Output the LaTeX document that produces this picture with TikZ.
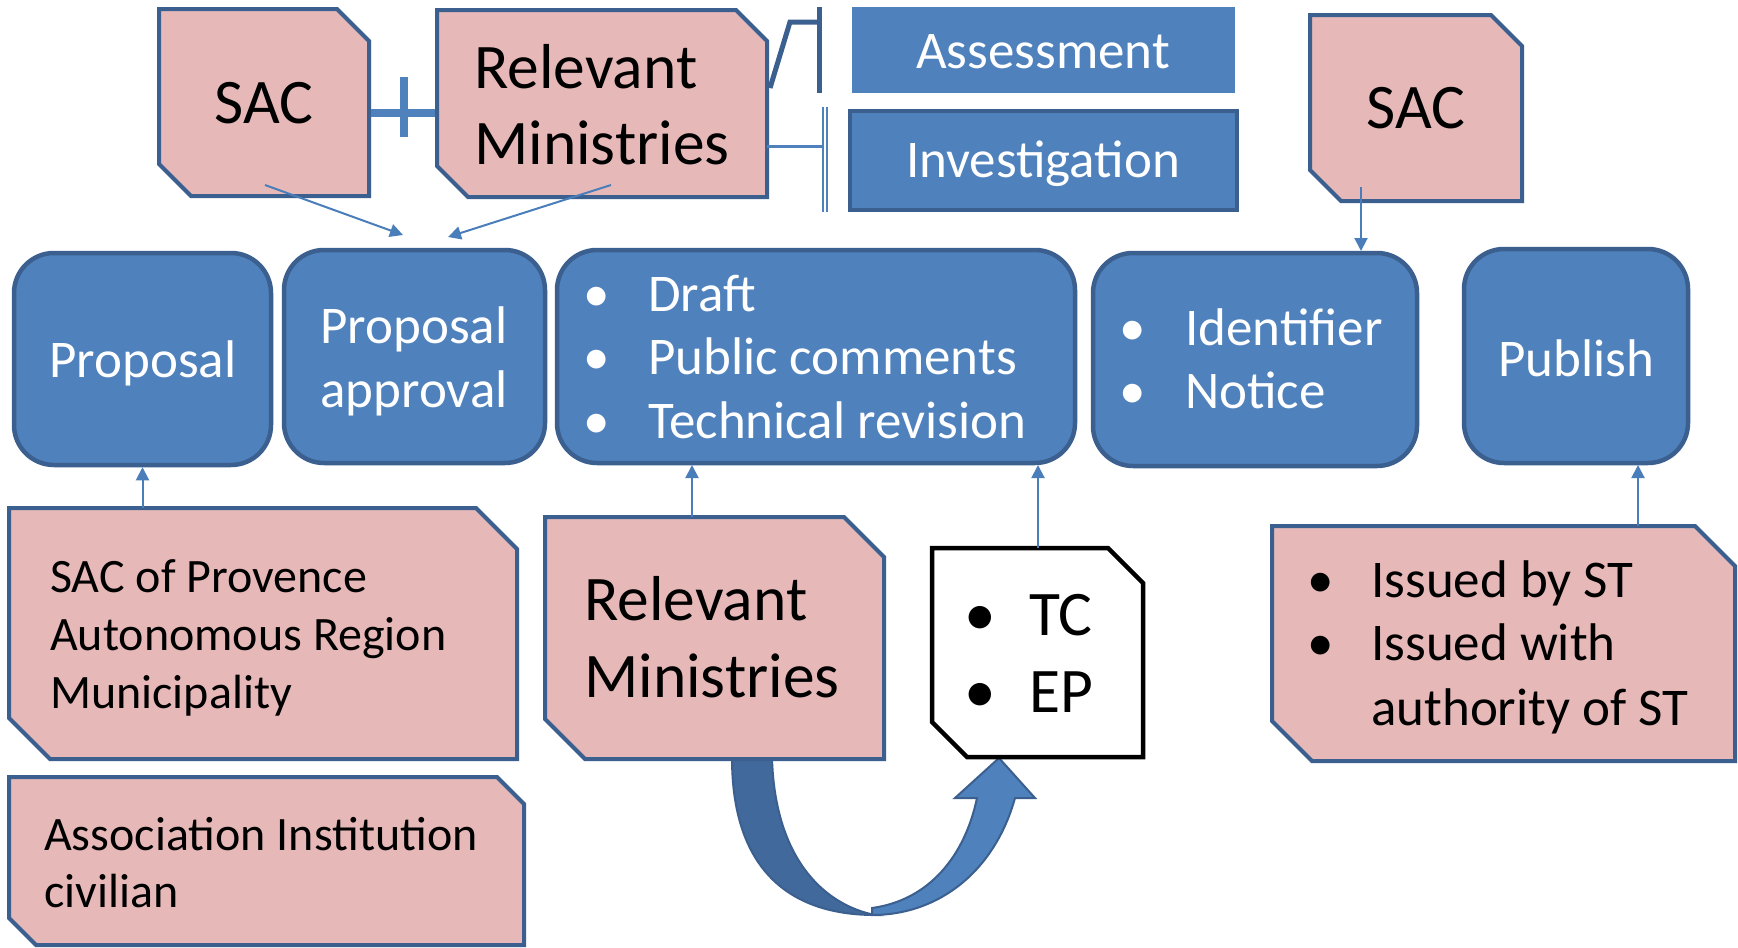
\documentclass[tikz,border=0pt]{standalone}
\usepackage{fontspec}
\setmainfont{Carlito}
\usetikzlibrary{arrows.meta,fit,calc}
\definecolor{pinkf}{HTML}{E6B9B8}
\definecolor{dkblue}{HTML}{3B5F8E}
\definecolor{acc}{HTML}{4F81BD}
\definecolor{connc}{HTML}{4A7EBB}
\definecolor{backband}{HTML}{41699B}
\newcommand\chbox[7]{%
  \node[fit={(#3,#4)(#5,#6)}, inner sep=0pt] (#2) {};
  \draw[#1] (#3,#4) -- ({#5-#7},#4) -- (#5,{#4+#7}) -- (#5,#6) -- ({#3+#7},#6) -- (#3,{#6-#7}) -- cycle;
}
\newcommand\bitem[6]{%
  \node[#1, anchor=base] (#2b) at (#3,#5) {\textbullet};
  \node[#1, anchor=base west] (#2) at (#4,#5) {#6};
}
\tikzset{
  pinkbox/.style={fill=pinkf, draw=dkblue, line width=4pt},
  whitebox/.style={fill=white, draw=black, line width=4.5pt},
  bluebox/.style={fill=acc, draw=dkblue, line width=4.5pt, rounded corners=40pt, inner sep=0pt},
  conn/.style={draw=connc, line width=2pt, -{Triangle[length=13pt,width=13pt]}},
  wA/.style={text=white, inner sep=0pt, font=\fontsize{53}{63}\selectfont},
  bA/.style={text=black, inner sep=0pt, font=\fontsize{53}{63}\selectfont},
  bB/.style={text=black, inner sep=0pt, font=\fontsize{63.5}{76}\selectfont},
  bC/.style={text=black, inner sep=0pt, font=\fontsize{48}{58}\selectfont},
}
\begin{document}
\begin{tikzpicture}[x=1pt, y=-1pt]
\useasboundingbox[fill=white] (0,0) rectangle (1738,948);

% curved block arrow (drawn under boxes)
\fill[backband, draw=dkblue, line width=2pt]
  (732,758) .. controls (732,870) and (790,915) .. (875,915)
  .. controls (825,905) and (775,860) .. (772,758) -- cycle;
\fill[acc, draw=dkblue, line width=2pt]
  (872,915) .. controls (940,915) and (995,870) .. (1015,798)
  -- (1035,798) -- (999,758) -- (955,798) -- (977,798)
  .. controls (965,855) and (930,900) .. (872,908) -- cycle;

% top row
\chbox{pinkbox}{sac1}{159}{9}{369}{196}{32}
\chbox{pinkbox}{rm1}{437}{10}{767}{197}{31}
\chbox{pinkbox}{sac2}{1310}{15}{1522}{201}{31}
\node[fill=acc, inner sep=0pt, fit={(852,7)(1235,93)}] (assess) {};
\node[fill=acc, draw=dkblue, line width=4pt, inner sep=0pt, fit={(850,111)(1237,210)}] (invest) {};

% plus sign
\draw[acc, line width=8pt] ($(sac1.east)+(2,10)$) -- ($(rm1.west)+(-2,9)$);
\coordinate (plusT) at (404,77);
\coordinate (plusB) at (404,137);
\draw[acc, line width=8pt] (plusT) -- (plusB);

% bracket to Assessment
\coordinate (brA) at (770,88);
\coordinate (brB) at (790,22);
\coordinate (brC) at (819,22);
\coordinate (brT) at (819,7);
\coordinate (brD) at (819,93);
\draw[dkblue, line width=5pt] (brA) -- (brB) -- (brC);
\draw[dkblue, line width=5pt] (brT) -- (brD);
% bracket to Investigation
\coordinate (biT) at (825,107);
\coordinate (biB) at (825,212);
\draw[acc, line width=3pt] ($(rm1.east)+(0,43)$) -- (825,146.5);
\draw[acc, line width=1.3pt, double=white, double distance=2.5pt] (biT) -- (biB);

% middle row
\node[bluebox, fit={(14,253)(271,465)}] (prop) {};
\node[bluebox, fit={(284,250)(545,463)}] (appr) {};
\node[bluebox, fit={(557,250)(1075,463)}] (draft) {};
\node[bluebox, fit={(1093,253)(1417,466)}] (ident) {};
\node[bluebox, fit={(1464,249)(1688,463)}] (publ) {};

% bottom row
\chbox{pinkbox}{orgs}{9}{508}{517}{759}{41}
\chbox{pinkbox}{assoc}{9}{777}{524}{945}{27}
\chbox{pinkbox}{rm2}{545}{517}{884}{759}{40}
\chbox{whitebox}{tcep}{932}{548}{1143}{757}{35}
\chbox{pinkbox}{issued}{1272}{526}{1735}{761}{40}

% texts top
\node[bB, anchor=base] (tsac1) at (264,123) {SAC};
\node[bB, anchor=base west] (trm1a) at (474,88) {Relevant};
\node[bB, anchor=base west] (trm1b) at (474,164) {Ministries};
\node[bB, anchor=base] (tsac2) at (1416,128) {SAC};
\node[wA, anchor=base] (tass) at (1043,68) {Assessment};
\node[wA, anchor=base] (tinv) at (1043,177) {Investigation};

% texts middle
\node[wA, anchor=base] (tprop) at (143,377) {Proposal};
\node[wA, anchor=base] (tappa) at (414,343) {Proposal};
\node[wA, anchor=base] (tappb) at (414,407) {approval};
\bitem{wA}{dr1}{597}{648}{311}{Draft}
\bitem{wA}{dr2}{597}{648}{374}{Public comments}
\bitem{wA}{dr3}{597}{648}{438}{Technical revision}
\bitem{wA}{id1}{1133}{1185}{345}{Identifier}
\bitem{wA}{id2}{1133}{1185}{408}{Notice}
\node[wA, anchor=base] (tpub) at (1576,376) {Publish};

% texts bottom
\node[bC, anchor=base west] (to1) at (50,592) {SAC of Provence};
\node[bC, anchor=base west] (to2) at (50,650) {Autonomous Region};
\node[bC, anchor=base west] (to3) at (50,708) {Municipality};
\node[bC, anchor=base west] (ta1) at (44,850) {Association Institution};
\node[bC, anchor=base west] (ta2) at (44,907) {civilian};
\node[bB, anchor=base west] (trm2a) at (584,620) {Relevant};
\node[bB, anchor=base west] (trm2b) at (584,697) {Ministries};
\bitem{bB}{tc1}{980}{1029}{635}{TC}
\bitem{bB}{tc2}{980}{1029}{712}{EP}
\bitem{bA}{is1}{1321}{1371}{597}{Issued by ST}
\bitem{bA}{is2}{1321}{1371}{660}{Issued with}
\node[bA, anchor=base west] (is3) at (1371,725) {authority of ST};

% connectors
\coordinate (c1s) at (265,185);
\coordinate (c1e) at (403,235);
\coordinate (c2s) at (611,185);
\coordinate (c2e) at (448,237);
\draw[conn] (c1s) -- (c1e);
\draw[conn] (c2s) -- (c2e);
\draw[conn] (1361,187) -- (1361,251);
\draw[conn] (orgs.north -| prop.south) -- (prop.south);
\draw[conn] (692,517) -- (692,465);
\draw[conn] (tcep.north -| 1038,0) -- (1038,465);
\draw[conn] (1638,526) -- (1638,465);
\end{tikzpicture}
\end{document}
